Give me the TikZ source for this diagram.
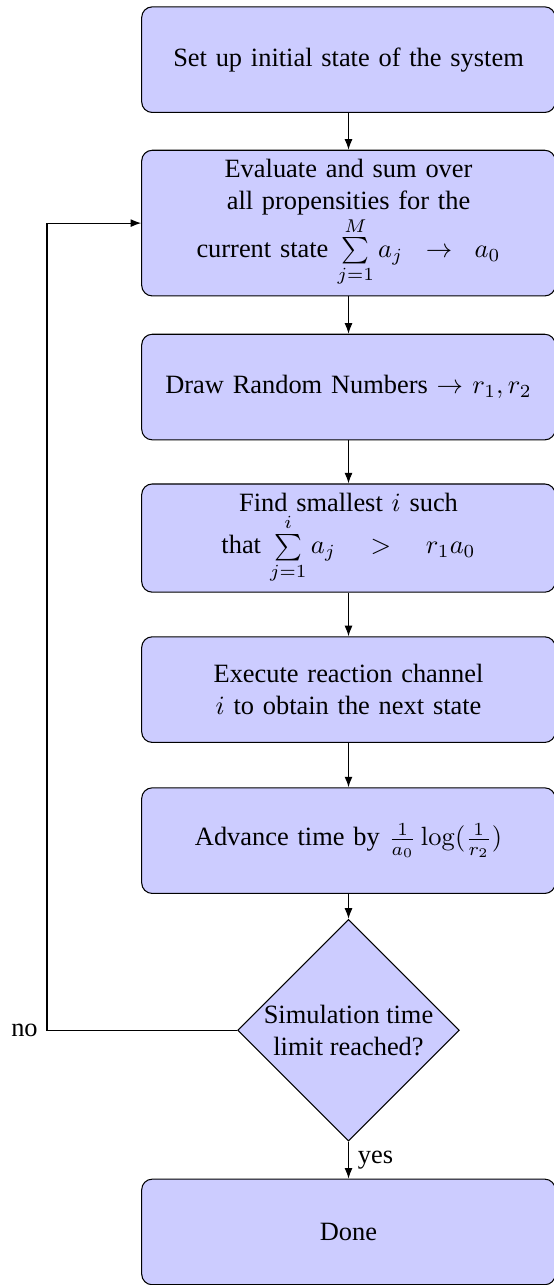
\documentclass[tikz,border=0pt]{standalone}
\usepackage{amsmath}
\usepackage[no-math]{fontspec}
\setmainfont{Liberation Serif}
\usepackage{tikz}
\usetikzlibrary{
	arrows.meta,
	shapes.geometric,
	positioning
}

\begin{document}
\begin{tikzpicture}[x=1pt, y=1pt,
		block/.style={rectangle, draw, fill=blue!20, text width=150pt, align=center,
			rounded corners=4pt, minimum height=40pt, inner sep=3.33pt},
		decision/.style={diamond, draw, fill=blue!20, align=center,
			minimum width=84pt, minimum height=84pt, inner sep=0pt},
		line/.style={draw, -{Latex[length=4pt, width=3pt]}}]
		\useasboundingbox (0,0) rectangle (209.8,-486.7);
		
		% steps of the loop
		\node[block] (init) at (132,-22.6) {Set up initial state of the system};
		\node[block] (eval) at (132,-84.5) {Evaluate and sum over\\ all propensities for the\\
			current state $\sum\limits_{j=1}^{M} a_j \ \rightarrow\ a_0$};
		\node[block] (rand) at (132,-146.6) {Draw Random Numbers $\rightarrow r_1, r_2$};
		\node[block] (find) at (132,-203.8) {Find smallest $i$ such\\
			that $\sum\limits_{j=1}^{i} a_j \ \ >\ \ r_1 a_0$};
		\node[block] (exec) at (132,-261.2) {Execute reaction channel\\ $i$ to obtain the next state};
		\node[block] (adv) at (132,-318.4) {Advance time by $\frac{1}{a_0}\log(\frac{1}{r_2})$};
		
		% test and end
		\node[decision] (check) at (132,-390.2) {Simulation time\\ limit reached?};
		\node[block] (done) at (132,-466.6) {Done};
		
		\coordinate (back) at (17.8,-390.2);
		
		\path[line] (init) -- (eval);
		\path[line] (eval) -- (rand);
		\path[line] (rand) -- (find);
		\path[line] (find) -- (exec);
		\path[line] (exec) -- (adv);
		\path[line] (adv) -- (check);
		\path[line] (check) -- node[right] {yes} (done);
		\path[line] (check.west) -- (back) node[left] {no} |- (eval.west);
	\end{tikzpicture}
\end{document}
